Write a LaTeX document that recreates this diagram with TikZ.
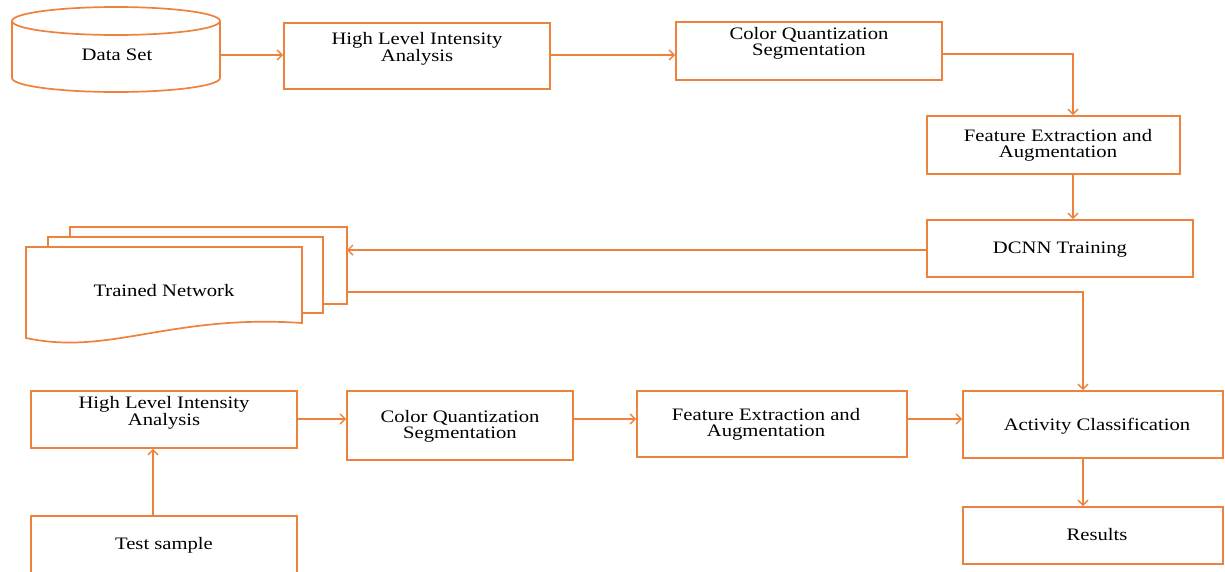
\documentclass[tikz,border=0pt]{standalone}
\usepackage{fontspec}
\setmainfont{Liberation Serif}
\usetikzlibrary{arrows.meta}
\definecolor{org}{RGB}{237,130,60}
\newcommand\mylbl[1]{\scalebox{1.18}[1]{\begin{tabular}{@{}c@{}}#1\end{tabular}}}
\begin{document}
\begin{tikzpicture}[x=1pt,y=-1pt,
  ln/.style={draw=org, line width=1.7pt},
  box/.style={ln, rectangle, inner sep=0pt, minimum width=#1},
  arr/.style={ln, -{Straight Barb[length=5pt,width=10pt,line width=1.4pt]}},
  txt/.style={inner sep=0pt, font=\fontsize{17.5}{16.5}\selectfont, text=black}]
\useasboundingbox (0,0) rectangle (1225,571);
\clip (0,0) rectangle (1225,571);
\fill[white] (0,0) rectangle (1225,571);
% Data set cylinder
\draw[ln, fill=white] (12,21) -- (12,78) arc[start angle=180, end angle=0, x radius=104, y radius=14] -- (220,21);
\draw[ln, fill=white] (116,21) ellipse[x radius=104, y radius=14];
\coordinate (ds) at (220,55);
\node[txt] (dst) at (117,57) {\mylbl{Data Set}};
% top row boxes
\node[box=266, minimum height=66] (hla1) at (417,56) {};
\node[txt] at (417,49) {\mylbl{High Level Intensity\\Analysis}};
\node[box=266, minimum height=58] (cq1) at (809,51) {};
\node[txt] at (809,44) {\mylbl{Color Quantization\\Segmentation}};
\node[box=253, minimum height=58] (fe1) at (1053.5,145) {};
\node[txt] at (1058,146) {\mylbl{Feature Extraction and\\Augmentation}};
\node[box=266, minimum height=57] (dcnn) at (1060,248.5) {};
\node[txt] at (1060,250) {\mylbl{DCNN Training}};
% trained network stack
\draw[ln, fill=white] (70,227) rectangle (347,304);
\draw[ln, fill=white] (48,237) rectangle (323,313);
\draw[ln, fill=white] (26,247) -- (302,247) -- (302,323) .. controls (170,314) and (110,356) .. (26,338) -- cycle;
\coordinate (tnin) at (347,250);
\coordinate (tnout) at (347,292);
\node[txt] (tnt) at (164,293) {\mylbl{Trained Network}};
% bottom row
\node[box=266, minimum height=57] (hla2) at (164,419.5) {};
\node[txt] at (164,413) {\mylbl{High Level Intensity\\Analysis}};
\node[box=266, minimum height=74] (test) at (164,553) {};
\node[txt] at (164,546) {\mylbl{Test sample}};
\node[box=226, minimum height=69] (cq2) at (460,425.5) {};
\node[txt] at (460,427) {\mylbl{Color Quantization\\Segmentation}};
\node[box=270, minimum height=66] (fe2) at (772,424) {};
\node[txt] at (766,425) {\mylbl{Feature Extraction and\\Augmentation}};
\node[box=260, minimum height=67] (act) at (1093,424.5) {};
\node[txt] at (1097,427) {\mylbl{Activity Classification}};
\node[box=260, minimum height=57] (res) at (1093,535.5) {};
\node[txt] at (1097,537) {\mylbl{Results}};
% helper coordinates
\coordinate (v1) at (1073,0);
\coordinate (v2) at (1083,0);
\coordinate (v3) at (153,0);
\coordinate (h1) at (0,54);
\coordinate (h2) at (0,419);
% connectors
\draw[arr] (ds) -- (hla1.west |- ds);
\draw[arr] (hla1.east |- ds) -- (cq1.west |- ds);
\draw[arr] (cq1.east |- h1) -| (v1 |- fe1.north);
\draw[arr] (v1 |- fe1.south) -- (v1 |- dcnn.north);
\draw[arr] (dcnn.west |- tnin) -- (tnin);
\draw[arr] (tnout) -| (v2 |- act.north);
\draw[arr] (v2 |- act.south) -- (v2 |- res.north);
\draw[arr] (v3 |- test.north) -- (v3 |- hla2.south);
\draw[arr] (hla2.east |- h2) -- (cq2.west |- h2);
\draw[arr] (cq2.east |- h2) -- (fe2.west |- h2);
\draw[arr] (fe2.east |- h2) -- (act.west |- h2);
\end{tikzpicture}
\end{document}
